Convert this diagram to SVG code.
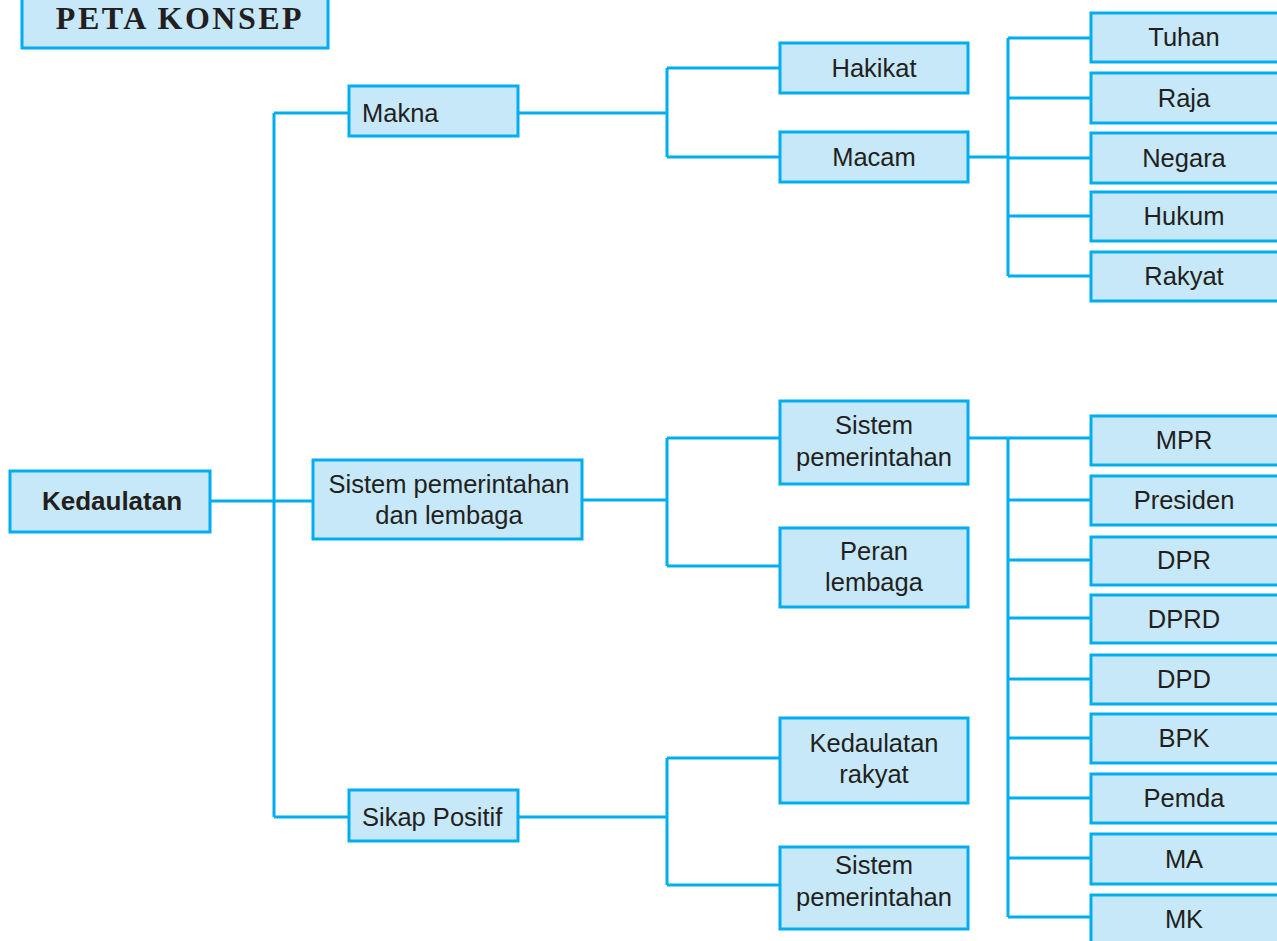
<svg xmlns="http://www.w3.org/2000/svg" width="1277" height="941" viewBox="0 0 1277 941">
<style>
.b{fill:#c6e8f9;stroke:#00aeef;stroke-width:3}
.t{font-family:"Liberation Sans",Arial,sans-serif;font-size:25.5px;fill:#231f20;text-anchor:middle}
.l{text-anchor:start}
.c{fill:none;stroke:#00aeef;stroke-width:3}
</style>
<rect width="1277" height="941" fill="#fff"/>
<g id="connectors">
<path class="c" d="M210,501H315M274,113V817M274,113H349M274,817H349"/>
<path class="c" d="M518,113H667M667,68V157M667,68H780M667,157H780"/>
<path class="c" d="M968,157H1008M1008,38V276M1008,38H1091M1008,98H1091M1008,158H1091M1008,216H1091M1008,276H1091"/>
<path class="c" d="M582,500H667M667,438V566M667,438H780M667,566H780"/>
<path class="c" d="M968,438H1091M1008,438V917M1008,500H1091M1008,560H1091M1008,618H1091M1008,679H1091M1008,738H1091M1008,798H1091M1008,858H1091M1008,917H1091"/>
<path class="c" d="M518,817H667M667,758V885M667,758H780M667,885H780"/>
</g>
<g id="title"><rect class="b" x="22" y="-5" width="306" height="53"/><text x="180" y="29" style="font-family:'Liberation Serif','Times New Roman',serif;font-weight:bold;font-size:32px;letter-spacing:2.5px;fill:#231f20;text-anchor:middle">PETA KONSEP</text></g>
<g id="kedaulatan"><rect class="b" x="10" y="471" width="200" height="61"/><text class="t" x="112" y="510" style="font-weight:bold;font-size:26px">Kedaulatan</text></g>
<g id="makna"><rect class="b" x="349" y="86" width="169" height="50"/><text class="t l" x="362" y="122">Makna</text></g>
<g id="sistem-lembaga"><rect class="b" x="313" y="460" width="269" height="79"/><text class="t" x="449" y="493">Sistem pemerintahan</text><text class="t" x="449" y="524">dan lembaga</text></g>
<g id="sikap"><rect class="b" x="349" y="790" width="169" height="51"/><text class="t l" x="362" y="826">Sikap Positif</text></g>
<g id="hakikat"><rect class="b" x="780" y="43" width="188" height="50"/><text class="t" x="874" y="77">Hakikat</text></g>
<g id="macam"><rect class="b" x="780" y="132" width="188" height="50"/><text class="t" x="874" y="166">Macam</text></g>
<g id="sistem1"><rect class="b" x="780" y="401" width="188" height="83"/><text class="t" x="874" y="434">Sistem</text><text class="t" x="874" y="466">pemerintahan</text></g>
<g id="peran"><rect class="b" x="780" y="528" width="188" height="79"/><text class="t" x="874" y="560">Peran</text><text class="t" x="874" y="591">lembaga</text></g>
<g id="kedaulatan-rakyat"><rect class="b" x="780" y="718" width="188" height="85"/><text class="t" x="874" y="752">Kedaulatan</text><text class="t" x="874" y="783">rakyat</text></g>
<g id="sistem2"><rect class="b" x="780" y="847" width="188" height="82"/><text class="t" x="874" y="874">Sistem</text><text class="t" x="874" y="906">pemerintahan</text></g>
<g id="tuhan"><rect class="b" x="1091" y="13" width="190" height="49"/><text class="t" x="1184" y="46">Tuhan</text></g>
<g id="raja"><rect class="b" x="1091" y="73" width="190" height="50"/><text class="t" x="1184" y="107">Raja</text></g>
<g id="negara"><rect class="b" x="1091" y="133" width="190" height="50"/><text class="t" x="1184" y="167">Negara</text></g>
<g id="hukum"><rect class="b" x="1091" y="192" width="190" height="49"/><text class="t" x="1184" y="225">Hukum</text></g>
<g id="rakyat"><rect class="b" x="1091" y="252" width="190" height="49"/><text class="t" x="1184" y="285">Rakyat</text></g>
<g id="mpr"><rect class="b" x="1091" y="416" width="190" height="49"/><text class="t" x="1184" y="449">MPR</text></g>
<g id="presiden"><rect class="b" x="1091" y="476" width="190" height="49"/><text class="t" x="1184" y="509">Presiden</text></g>
<g id="dpr"><rect class="b" x="1091" y="537" width="190" height="48"/><text class="t" x="1184" y="569">DPR</text></g>
<g id="dprd"><rect class="b" x="1091" y="595" width="190" height="48"/><text class="t" x="1184" y="628">DPRD</text></g>
<g id="dpd"><rect class="b" x="1091" y="655" width="190" height="49"/><text class="t" x="1184" y="688">DPD</text></g>
<g id="bpk"><rect class="b" x="1091" y="714" width="190" height="49"/><text class="t" x="1184" y="747">BPK</text></g>
<g id="pemda"><rect class="b" x="1091" y="774" width="190" height="49"/><text class="t" x="1184" y="807">Pemda</text></g>
<g id="ma"><rect class="b" x="1091" y="834" width="190" height="50"/><text class="t" x="1184" y="868">MA</text></g>
<g id="mk"><rect class="b" x="1091" y="895" width="190" height="50"/><text class="t" x="1184" y="928">MK</text></g>
</svg>
